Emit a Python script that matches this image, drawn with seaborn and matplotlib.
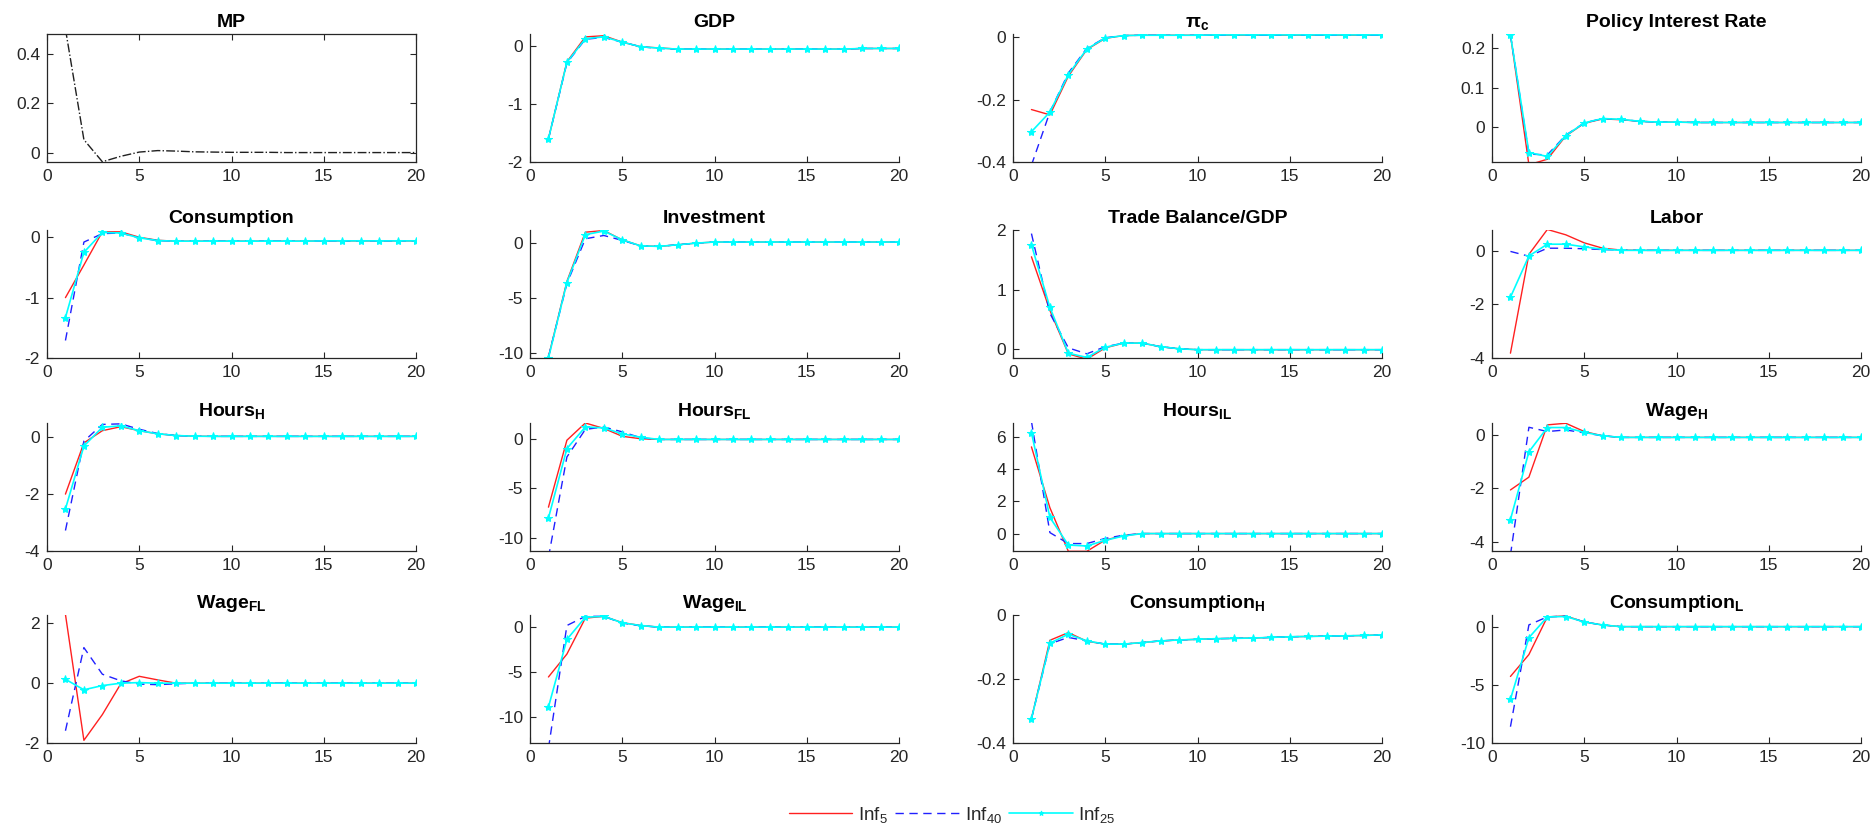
import matplotlib
matplotlib.use("Agg")
import matplotlib.pyplot as plt
import numpy as np
import pandas as pd
import seaborn as sns

# --- Data, horizon 1..20
periods = np.arange(1, 21)

mp_shock = [0.50, 0.054, -0.035, -0.013, 0.004, 0.010, 0.008, 0.005, 0.004, 0.003,
            0.003, 0.003, 0.002, 0.002, 0.002, 0.002, 0.002, 0.002, 0.002, 0.002]

gdp_5 = [-1.60, -0.27, 0.16, 0.18, 0.07, -0.01, -0.03, -0.05, -0.05, -0.05,
         -0.05, -0.05, -0.05, -0.05, -0.05, -0.05, -0.05, -0.04, -0.04, -0.04]
gdp_40 = [-1.60, -0.29, 0.12, 0.15, 0.07, -0.01, -0.04, -0.05, -0.05, -0.05,
          -0.05, -0.05, -0.05, -0.05, -0.05, -0.05, -0.05, -0.04, -0.04, -0.04]
gdp_25 = [-1.60, -0.28, 0.13, 0.16, 0.07, -0.01, -0.035, -0.05, -0.05, -0.05,
          -0.05, -0.05, -0.05, -0.05, -0.05, -0.05, -0.05, -0.04, -0.04, -0.04]

pic_5 = [-0.232, -0.249, -0.125, -0.040, -0.004, 0.005, 0.006, 0.006, 0.006, 0.006,
         0.006, 0.006, 0.006, 0.006, 0.006, 0.006, 0.006, 0.006, 0.006, 0.006]
pic_40 = [-0.41, -0.240, -0.115, -0.036, -0.002, 0.005, 0.006, 0.006, 0.006, 0.006,
          0.006, 0.006, 0.006, 0.006, 0.006, 0.006, 0.006, 0.006, 0.006, 0.006]
pic_25 = [-0.303, -0.240, -0.120, -0.038, -0.003, 0.005, 0.006, 0.006, 0.006, 0.006,
          0.007, 0.007, 0.007, 0.007, 0.007, 0.007, 0.007, 0.007, 0.007, 0.007]

rate_5 = [0.234, -0.095, -0.081, -0.022, 0.010, 0.021, 0.019, 0.015, 0.013, 0.013,
          0.012, 0.012, 0.012, 0.012, 0.012, 0.012, 0.012, 0.012, 0.012, 0.012]
rate_40 = [0.234, -0.068, -0.070, -0.020, 0.011, 0.022, 0.020, 0.015, 0.013, 0.013,
           0.012, 0.012, 0.012, 0.012, 0.012, 0.012, 0.012, 0.012, 0.012, 0.012]
rate_25 = [0.234, -0.064, -0.074, -0.021, 0.011, 0.022, 0.020, 0.015, 0.013, 0.013,
           0.012, 0.012, 0.012, 0.012, 0.012, 0.012, 0.012, 0.012, 0.012, 0.012]

cons_5 = [-1.00, -0.46, 0.09, 0.09, 0.00, -0.05, -0.065, -0.065, -0.065, -0.065,
          -0.065, -0.065, -0.065, -0.065, -0.06, -0.06, -0.06, -0.06, -0.06, -0.06]
cons_40 = [-1.71, -0.08, 0.06, 0.07, -0.01, -0.055, -0.065, -0.065, -0.065, -0.065,
           -0.065, -0.065, -0.065, -0.065, -0.06, -0.06, -0.06, -0.06, -0.06, -0.06]
cons_25 = [-1.33, -0.25, 0.08, 0.07, -0.01, -0.055, -0.065, -0.065, -0.065, -0.065,
           -0.065, -0.065, -0.065, -0.065, -0.06, -0.06, -0.06, -0.06, -0.06, -0.06]

inv_5 = [-10.40, -3.50, 1.00, 1.15, 0.30, -0.25, -0.30, -0.15, 0.00, 0.10,
         0.10, 0.10, 0.10, 0.10, 0.10, 0.10, 0.10, 0.10, 0.10, 0.10]
inv_40 = [-10.40, -3.70, 0.40, 0.70, 0.25, -0.25, -0.30, -0.15, 0.00, 0.10,
          0.10, 0.10, 0.10, 0.10, 0.10, 0.10, 0.10, 0.10, 0.10, 0.10]
inv_25 = [-10.50, -3.60, 0.78, 1.10, 0.30, -0.25, -0.30, -0.15, 0.00, 0.10,
          0.10, 0.10, 0.10, 0.10, 0.10, 0.10, 0.10, 0.10, 0.10, 0.10]

tb_5 = [1.55, 0.65, -0.08, -0.17, 0.02, 0.10, 0.10, 0.04, 0.005, -0.01,
        -0.01, -0.01, -0.01, -0.01, -0.01, -0.01, -0.01, -0.01, -0.01, -0.01]
tb_40 = [1.94, 0.60, 0.02, -0.08, 0.04, 0.10, 0.10, 0.04, 0.005, -0.01,
         -0.01, -0.01, -0.01, -0.01, -0.01, -0.01, -0.01, -0.01, -0.01, -0.01]
tb_25 = [1.75, 0.70, -0.07, -0.14, 0.03, 0.10, 0.10, 0.04, 0.005, -0.01,
         -0.01, -0.01, -0.01, -0.01, -0.01, -0.01, -0.01, -0.01, -0.01, -0.01]

labor_5 = [-3.82, -0.13, 0.80, 0.60, 0.30, 0.10, 0.03, 0.02, 0.02, 0.02,
           0.02, 0.02, 0.02, 0.02, 0.02, 0.02, 0.02, 0.02, 0.02, 0.02]
labor_40 = [-0.02, -0.20, 0.10, 0.10, 0.08, 0.05, 0.03, 0.02, 0.02, 0.02,
            0.02, 0.02, 0.02, 0.02, 0.02, 0.02, 0.02, 0.02, 0.02, 0.02]
labor_25 = [-1.73, -0.19, 0.25, 0.25, 0.15, 0.06, 0.02, 0.02, 0.02, 0.02,
            0.02, 0.02, 0.02, 0.02, 0.02, 0.02, 0.02, 0.02, 0.02, 0.02]

hh_5 = [-2.00, -0.20, 0.23, 0.37, 0.23, 0.12, 0.06, 0.035, 0.03, 0.03,
        0.03, 0.03, 0.03, 0.03, 0.03, 0.03, 0.03, 0.03, 0.03, 0.03]
hh_40 = [-3.28, -0.14, 0.45, 0.47, 0.28, 0.13, 0.06, 0.035, 0.03, 0.03,
         0.03, 0.03, 0.03, 0.03, 0.03, 0.03, 0.03, 0.03, 0.03, 0.03]
hh_25 = [-2.52, -0.31, 0.35, 0.40, 0.23, 0.12, 0.06, 0.035, 0.03, 0.03,
         0.03, 0.03, 0.03, 0.03, 0.03, 0.03, 0.03, 0.03, 0.03, 0.03]

hfl_5 = [-6.90, -0.10, 1.65, 1.10, 0.30, 0.05, -0.02, -0.02, -0.02, -0.02,
         -0.02, -0.02, -0.02, -0.02, -0.02, -0.02, -0.02, -0.02, -0.02, -0.02]
hfl_40 = [-12.0, -1.80, 1.00, 1.25, 0.75, 0.15, -0.02, -0.02, -0.02, -0.02,
          -0.02, -0.02, -0.02, -0.02, -0.02, -0.02, -0.02, -0.02, -0.02, -0.02]
hfl_25 = [-8.00, -0.95, 1.25, 1.15, 0.55, 0.20, -0.02, -0.02, -0.02, -0.02,
          -0.02, -0.02, -0.02, -0.02, -0.02, -0.02, -0.02, -0.02, -0.02, -0.02]

hil_5 = [5.37, 1.60, -1.10, -1.10, -0.40, -0.12, 0.0, 0.0, 0.0, 0.0,
         0.0, 0.0, 0.0, 0.0, 0.0, 0.0, 0.0, 0.0, 0.0, 0.0]
hil_40 = [6.95, 0.06, -0.62, -0.62, -0.30, -0.10, 0.0, 0.0, 0.0, 0.0,
          0.0, 0.0, 0.0, 0.0, 0.0, 0.0, 0.0, 0.0, 0.0, 0.0]
hil_25 = [6.25, 1.00, -0.71, -0.77, -0.42, -0.15, 0.0, 0.0, 0.0, 0.0,
          0.0, 0.0, 0.0, 0.0, 0.0, 0.0, 0.0, 0.0, 0.0, 0.0]

wh_5 = [-2.06, -1.58, 0.38, 0.44, 0.13, -0.03, -0.09, -0.09, -0.09, -0.09,
        -0.09, -0.09, -0.09, -0.09, -0.09, -0.09, -0.09, -0.09, -0.09, -0.09]
wh_40 = [-4.50, 0.29, 0.13, 0.19, 0.08, -0.03, -0.09, -0.09, -0.09, -0.09,
         -0.09, -0.09, -0.09, -0.09, -0.09, -0.09, -0.09, -0.09, -0.09, -0.09]
wh_25 = [-3.17, -0.63, 0.28, 0.28, 0.10, -0.03, -0.09, -0.09, -0.09, -0.09,
         -0.09, -0.09, -0.09, -0.09, -0.09, -0.09, -0.09, -0.09, -0.09, -0.09]

wfl_5 = [2.30, -1.91, -1.05, -0.02, 0.23, 0.11, 0.0, 0.0, 0.0, 0.0,
         0.0, 0.0, 0.0, 0.0, 0.0, 0.0, 0.0, 0.0, 0.0, 0.0]
wfl_40 = [-1.59, 1.19, 0.30, 0.08, -0.03, -0.05, -0.02, 0.0, 0.0, 0.0,
          0.0, 0.0, 0.0, 0.0, 0.0, 0.0, 0.0, 0.0, 0.0, 0.0]
wfl_25 = [0.13, -0.22, -0.08, 0.00, 0.02, 0.00, 0.0, 0.0, 0.0, 0.0,
          0.0, 0.0, 0.0, 0.0, 0.0, 0.0, 0.0, 0.0, 0.0, 0.0]

wil_5 = [-5.55, -3.00, 1.00, 1.20, 0.50, 0.18, 0.0, 0.0, 0.0, 0.0,
         0.0, 0.0, 0.0, 0.0, 0.0, 0.0, 0.0, 0.0, 0.0, 0.0]
wil_40 = [-13.5, 0.18, 1.20, 1.20, 0.45, 0.15, 0.0, 0.0, 0.0, 0.0,
          0.0, 0.0, 0.0, 0.0, 0.0, 0.0, 0.0, 0.0, 0.0, 0.0]
wil_25 = [-8.90, -1.37, 1.10, 1.20, 0.48, 0.18, 0.0, 0.0, 0.0, 0.0,
          0.0, 0.0, 0.0, 0.0, 0.0, 0.0, 0.0, 0.0, 0.0, 0.0]

ch_5 = [-0.324, -0.079, -0.055, -0.082, -0.091, -0.091, -0.086, -0.081, -0.078, -0.076,
        -0.074, -0.073, -0.072, -0.070, -0.068, -0.067, -0.066, -0.065, -0.064, -0.062]
ch_40 = [-0.324, -0.090, -0.070, -0.081, -0.091, -0.091, -0.086, -0.081, -0.078, -0.076,
         -0.074, -0.073, -0.072, -0.070, -0.068, -0.067, -0.066, -0.065, -0.064, -0.062]
ch_25 = [-0.324, -0.088, -0.060, -0.081, -0.091, -0.091, -0.086, -0.081, -0.078, -0.076,
         -0.074, -0.073, -0.072, -0.070, -0.068, -0.067, -0.066, -0.065, -0.064, -0.062]

cl_5 = [-4.28, -2.40, 0.84, 0.92, 0.40, 0.14, 0.0, 0.0, 0.0, 0.0,
        0.0, 0.0, 0.0, 0.0, 0.0, 0.0, 0.0, 0.0, 0.0, 0.0]
cl_40 = [-8.60, 0.15, 0.84, 0.90, 0.40, 0.14, 0.0, 0.0, 0.0, 0.0,
         0.0, 0.0, 0.0, 0.0, 0.0, 0.0, 0.0, 0.0, 0.0, 0.0]
cl_25 = [-6.24, -0.95, 0.84, 0.87, 0.40, 0.14, 0.0, 0.0, 0.0, 0.0,
         0.0, 0.0, 0.0, 0.0, 0.0, 0.0, 0.0, 0.0, 0.0, 0.0]

# panel titles, series and y-axis settings
titles = ["MP", "GDP", r"$\mathbf{\pi_c}$", "Policy Interest Rate",
          "Consumption", "Investment", "Trade Balance/GDP", "Labor",
          r"Hours$_{\mathbf{H}}$", r"Hours$_{\mathbf{FL}}$", r"Hours$_{\mathbf{IL}}$", r"Wage$_{\mathbf{H}}$",
          r"Wage$_{\mathbf{FL}}$", r"Wage$_{\mathbf{IL}}$", r"Consumption$_{\mathbf{H}}$", r"Consumption$_{\mathbf{L}}$"]
panels = [None,
          (gdp_5, gdp_40, gdp_25), (pic_5, pic_40, pic_25), (rate_5, rate_40, rate_25),
          (cons_5, cons_40, cons_25), (inv_5, inv_40, inv_25), (tb_5, tb_40, tb_25),
          (labor_5, labor_40, labor_25), (hh_5, hh_40, hh_25), (hfl_5, hfl_40, hfl_25),
          (hil_5, hil_40, hil_25), (wh_5, wh_40, wh_25), (wfl_5, wfl_40, wfl_25),
          (wil_5, wil_40, wil_25), (ch_5, ch_40, ch_25), (cl_5, cl_40, cl_25)]
ylims = [(-0.036, 0.48), (-2, 0.21), (-0.4, 0.01), (-0.088, 0.236),
         (-2, 0.12), (-10.5, 1.2), (-0.15, 2.0), (-4, 0.78),
         (-4, 0.5), (-11.35, 1.65), (-1.08, 6.85), (-4.35, 0.45),
         (-2, 2.28), (-12.9, 1.35), (-0.4, 0.0), (-10, 1.0)]
yticks = [[0, 0.2, 0.4], [-2, -1, 0], [-0.4, -0.2, 0], [0, 0.1, 0.2],
          [-2, -1, 0], [-10, -5, 0], [0, 1, 2], [-4, -2, 0],
          [-4, -2, 0], [-10, -5, 0], [0, 2, 4, 6], [-4, -2, 0],
          [-2, 0, 2], [-10, -5, 0], [-0.4, -0.2, 0], [-10, -5, 0]]
ytick_labels = [["0", "0.2", "0.4"], None, ["-0.4", "-0.2", "0"], ["0", "0.1", "0.2"],
                None, None, None, None, None, None, None, None,
                None, None, ["-0.4", "-0.2", "0"], None]

series_names = ["Inf$_5$", "Inf$_{40}$", "Inf$_{25}$"]
series_colors = ["#ff2020", "#2020ff", "#00ffff"]

# --- Style
sns.set_theme(style="ticks")
plt.rcParams["font.family"] = ["Liberation Sans", "DejaVu Sans"]
plt.rcParams["mathtext.fontset"] = "custom"
plt.rcParams["mathtext.rm"] = "Liberation Sans"
plt.rcParams["mathtext.it"] = "Liberation Sans:italic"
plt.rcParams["mathtext.bf"] = "Liberation Sans:bold"
plt.rcParams["axes.unicode_minus"] = False
ink = "#262626"

fig = plt.figure(figsize=(18.75, 8.3), dpi=100)
W, H = 1875, 830
col_left = [47, 530, 1013, 1492]
ax_w = 369
row_top = [34, 230, 423, 615]
ax_h = 128

handles = None
for i in range(16):
    r, c = divmod(i, 4)
    ax = fig.add_axes([col_left[c] / W, 1 - (row_top[r] + ax_h) / H, ax_w / W, ax_h / H])

    if panels[i] is None:
        df = pd.DataFrame({"t": periods, "v": mp_shock})
        sns.lineplot(data=df, x="t", y="v", ax=ax, color="#202020",
                     linestyle="-.", linewidth=1.0)
        for s in ["top", "right"]:
            ax.spines[s].set_visible(True)
        ax.tick_params(right=True, top=True)
    else:
        v5, v40, v25 = panels[i]
        df = pd.DataFrame({"t": periods, "Inf5": v5, "Inf40": v40, "Inf25": v25})
        sns.lineplot(data=df, x="t", y="Inf5", ax=ax, color=series_colors[0],
                     linewidth=1.0, label=series_names[0], legend=False)
        sns.lineplot(data=df, x="t", y="Inf40", ax=ax, color=series_colors[1],
                     linewidth=1.0, linestyle=(0, (6, 4)), label=series_names[1], legend=False)
        sns.lineplot(data=df, x="t", y="Inf25", ax=ax, color=series_colors[2],
                     linewidth=1.2, marker="*", markersize=6, markeredgecolor=series_colors[2],
                     label=series_names[2], legend=False)
        sns.despine(ax=ax)
        if handles is None:
            handles, labels = ax.get_legend_handles_labels()

    ax.set_xlim(0, 20)
    ax.set_xticks([0, 5, 10, 15, 20])
    ax.set_ylim(*ylims[i])
    ax.set_yticks(yticks[i])
    if ytick_labels[i] is not None:
        ax.set_yticklabels(ytick_labels[i])
    ax.set_xlabel("")
    ax.set_ylabel("")
    ax.set_title(titles[i], fontsize=14, fontweight="bold", color="black", pad=5)
    ax.tick_params(direction="in", length=4, width=0.8, colors=ink,
                   labelsize=12.5, labelcolor=ink, pad=5)
    for s in ax.spines.values():
        s.set_color(ink)
        s.set_linewidth(0.9)

fig.legend(handles, labels, loc="center", bbox_to_anchor=(952 / W, 1 - 815 / H),
           ncol=3, frameon=False, fontsize=13.5, handlelength=3.4, numpoints=1,
           markerscale=0.6, handletextpad=0.3, columnspacing=0.4)

fig.savefig("out.png", dpi=100)
